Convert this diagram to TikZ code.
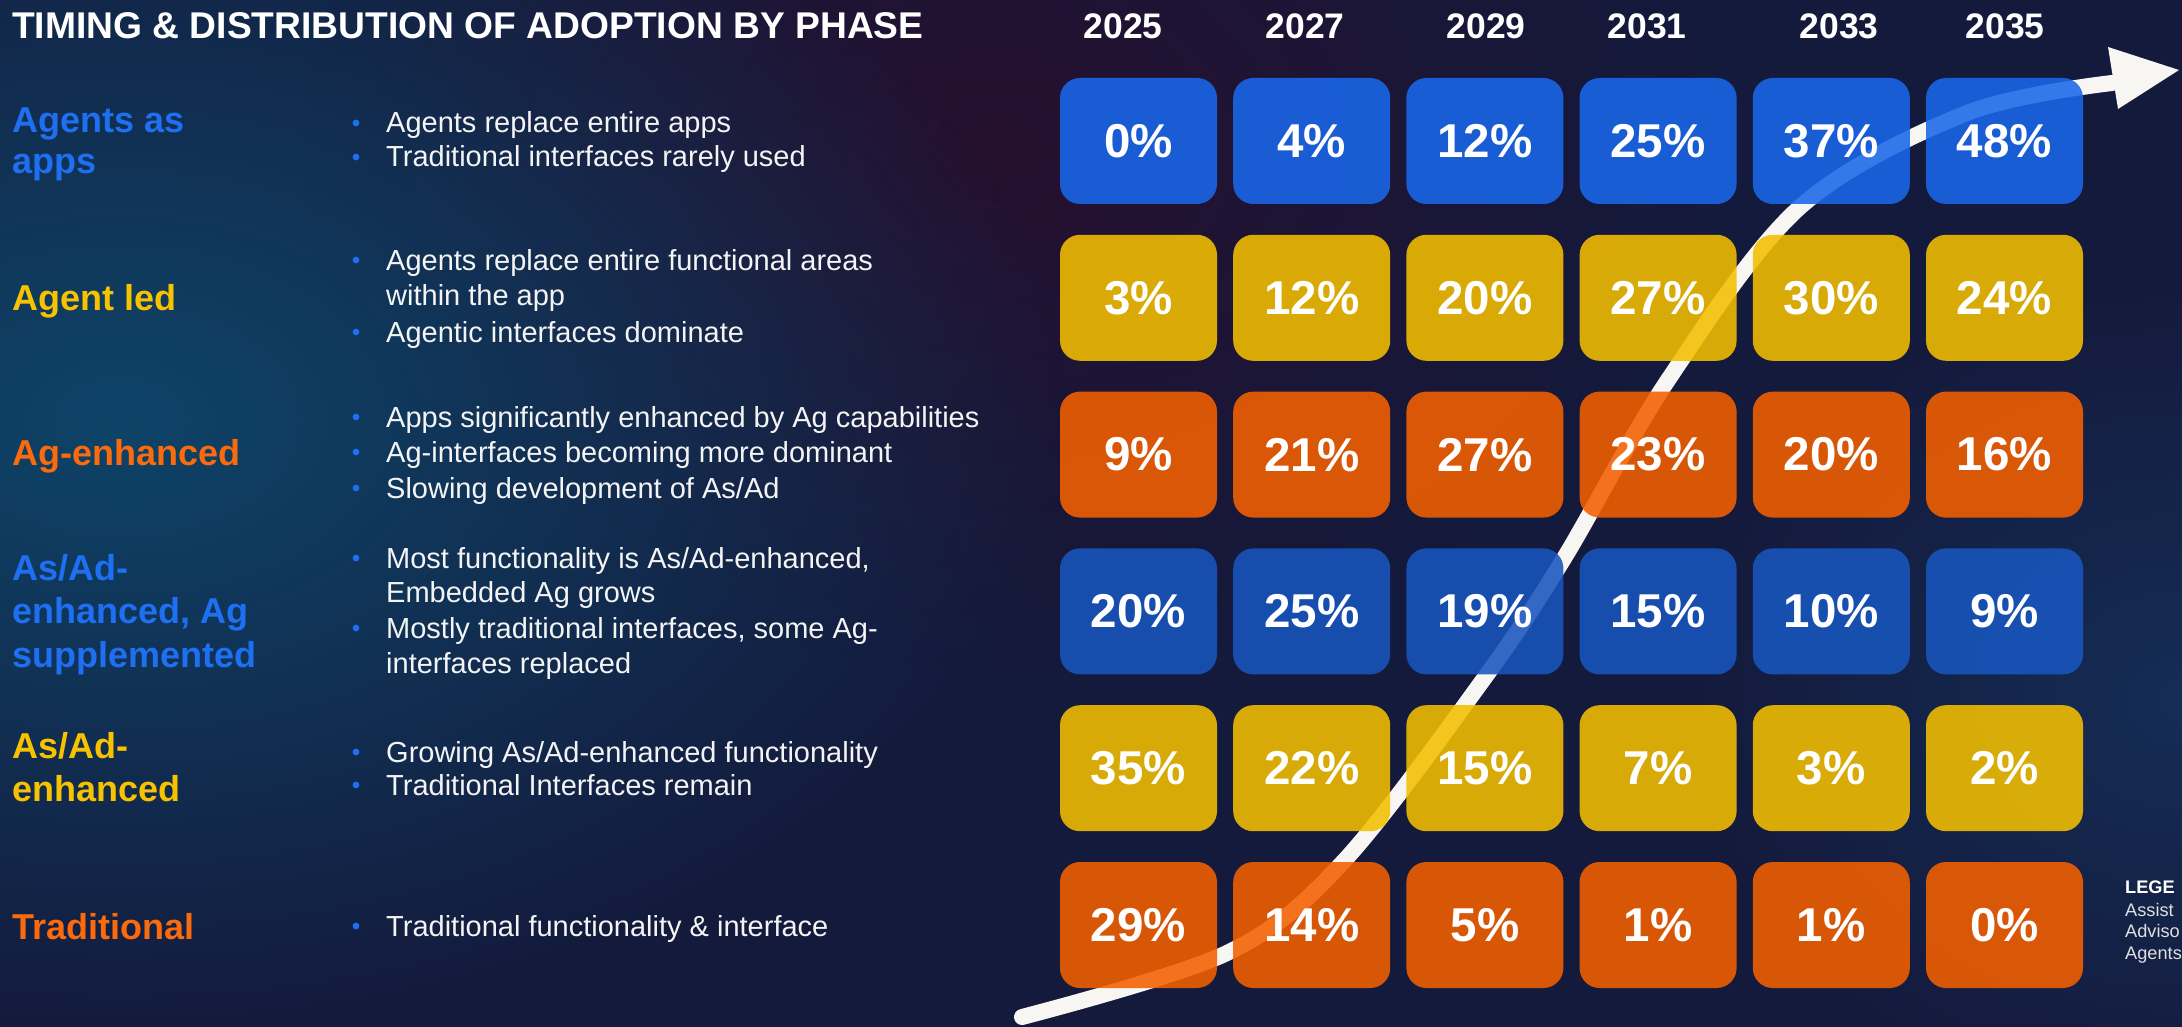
\documentclass[tikz,border=0pt]{standalone}
\usepackage{fontspec}
\setmainfont{Liberation Sans}
\usetikzlibrary{fadings}
\definecolor{bgbase}{HTML}{141A3C}
\definecolor{bgteal}{HTML}{0E4468}
\definecolor{bgpurple}{HTML}{26102F}
\definecolor{bglow}{HTML}{163560}
\definecolor{lblue}{HTML}{1F6FF2}
\definecolor{lyellow}{HTML}{F7C200}
\definecolor{lorange}{HTML}{FB6A0C}
\definecolor{bblue}{HTML}{1967EA}
\definecolor{bblueb}{HTML}{1856BE}
\definecolor{byellow}{HTML}{F4BF00}
\definecolor{borange}{HTML}{F46000}
\definecolor{arrowc}{HTML}{F8F6F2}
\definecolor{btext}{HTML}{F4F4F4}
\tikzfading[name=glowfade, inner color=transparent!0, outer color=transparent!100]
\begin{document}
\begin{tikzpicture}[x=1pt,y=-1pt,
  cell/.style={rounded corners=20pt, minimum width=157pt, minimum height=126pt,
    fill opacity=0.88, text opacity=1, text=white, inner sep=0pt,
    font=\fontsize{47.5}{50}\selectfont\bfseries},
  yearlbl/.style={text=white, inner sep=0pt, font=\fontsize{35.5}{40}\selectfont\bfseries},
  phase/.style={anchor=base west, inner sep=0pt, font=\fontsize{36}{40}\selectfont\bfseries},
  btxt/.style={anchor=base west, inner sep=0pt, text=btext, font=\fontsize{29}{32}\selectfont},
  legtxt/.style={anchor=base west, inner sep=0pt, text=white!88!black, font=\fontsize{18.2}{22}\selectfont}]
% background
\useasboundingbox (0,0) rectangle (2182,1027);
\clip (0,0) rectangle (2182,1027);
\fill[bgbase] (0,0) rectangle (2182,1027);
\fill[bgpurple, path fading=glowfade] (1000,150) ellipse [x radius=700, y radius=520];
\fill[bgteal, path fading=glowfade] (120,420) ellipse [x radius=950, y radius=620];
\fill[bglow, path fading=glowfade, fill opacity=0.7] (2182,700) ellipse [x radius=500, y radius=420];

% title and years
\node[anchor=base west, inner sep=0pt, text=white, font=\fontsize{37.2}{40}\selectfont\bfseries] (title) at (12,39) {TIMING \& DISTRIBUTION OF ADOPTION BY PHASE};
\foreach \yr/\xx in {2025/1123,2027/1305,2029/1486,2031/1647,2033/1839,2035/2005}
  \node[yearlbl] (y\yr) at (\xx,26) {\yr};

% curved arrow (behind the translucent cells)
\coordinate (arrS) at (1022,1017);
\coordinate (arrE) at (2112,83);
\draw[arrowc, line width=16pt, line cap=round] plot[smooth, tension=0.55] coordinates {(1022,1017) (1227,953) (1343,862) (1483,680) (1563,560) (1668,380) (1800,207) (1967,113) (2112,83)};
\fill[arrowc] (2108,47) -- (2179,70) -- (2118,109) -- cycle;

% cells
\foreach \r/\col/\vals in {1/bblue/{0,4,12,25,37,48},
                           2/byellow/{3,12,20,27,30,24},
                           3/borange/{9,21,27,23,20,16},
                           4/bblueb/{20,25,19,15,10,9},
                           5/byellow/{35,22,15,7,3,2},
                           6/borange/{29,14,5,1,1,0}}{
  \foreach \v [count=\c] in \vals{
    \node[cell, fill=\col] (c\r-\c) at ({1138.5+173.2*(\c-1)},{141+156.8*(\r-1)}) {\v\%};
  }
}

% phase labels
\node[phase, text=lblue] (p1a) at (12,133) {Agents as};
\node[phase, text=lblue] (p1b) at (12,174) {apps};
\node[phase, text=lyellow] (p2) at (12,310) {Agent led};
\node[phase, text=lorange] (p3) at (12,465) {Ag-enhanced};
\node[phase, text=lblue] (p4a) at (12,580) {As/Ad-};
\node[phase, text=lblue] (p4b) at (12,623) {enhanced, Ag};
\node[phase, text=lblue] (p4c) at (12,667) {supplemented};
\node[phase, text=lyellow] (p5a) at (12,758) {As/Ad-};
\node[phase, text=lyellow] (p5b) at (12,801) {enhanced};
\node[phase, text=lorange] (p6) at (12,939) {Traditional};

% bullet texts
\foreach \name/\yy/\dot/\txt in {
  b11/133/1/{Agents replace entire apps},
  b12/167/1/{Traditional interfaces rarely used},
  b21/270/1/{Agents replace entire functional areas},
  b22/305/0/{within the app},
  b23/342/1/{Agentic interfaces dominate},
  b31/427/1/{Apps significantly enhanced by Ag capabilities},
  b32/462/1/{Ag-interfaces becoming more dominant},
  b33/498/1/{Slowing development of As/Ad},
  b41/568/1/{Most functionality is As/Ad-enhanced,},
  b42/602/0/{Embedded Ag grows},
  b43/638/1/{Mostly traditional interfaces, some Ag-},
  b44/673/0/{interfaces replaced},
  b51/762/1/{Growing As/Ad-enhanced functionality},
  b52/795/1/{Traditional Interfaces remain},
  b61/936/1/{Traditional functionality \& interface}}{
  \node[btxt] (\name) at (386,\yy) {\txt};
  \ifnum\dot=1 \fill[lblue] (356,\yy-10) circle (3.4pt); \fi
}

% legend (as far as the picture shows it, up to the right edge)
\node[anchor=base west, inner sep=0pt, text=white, font=\fontsize{18.2}{22}\selectfont\bfseries] (leg) at (2125,893) {LEGE};
\node[legtxt] (leg1) at (2125,916) {Assist};
\node[legtxt] (leg2) at (2125,937) {Adviso};
\node[legtxt] (leg3) at (2125,959) {Agents};
\end{tikzpicture}
\end{document}
